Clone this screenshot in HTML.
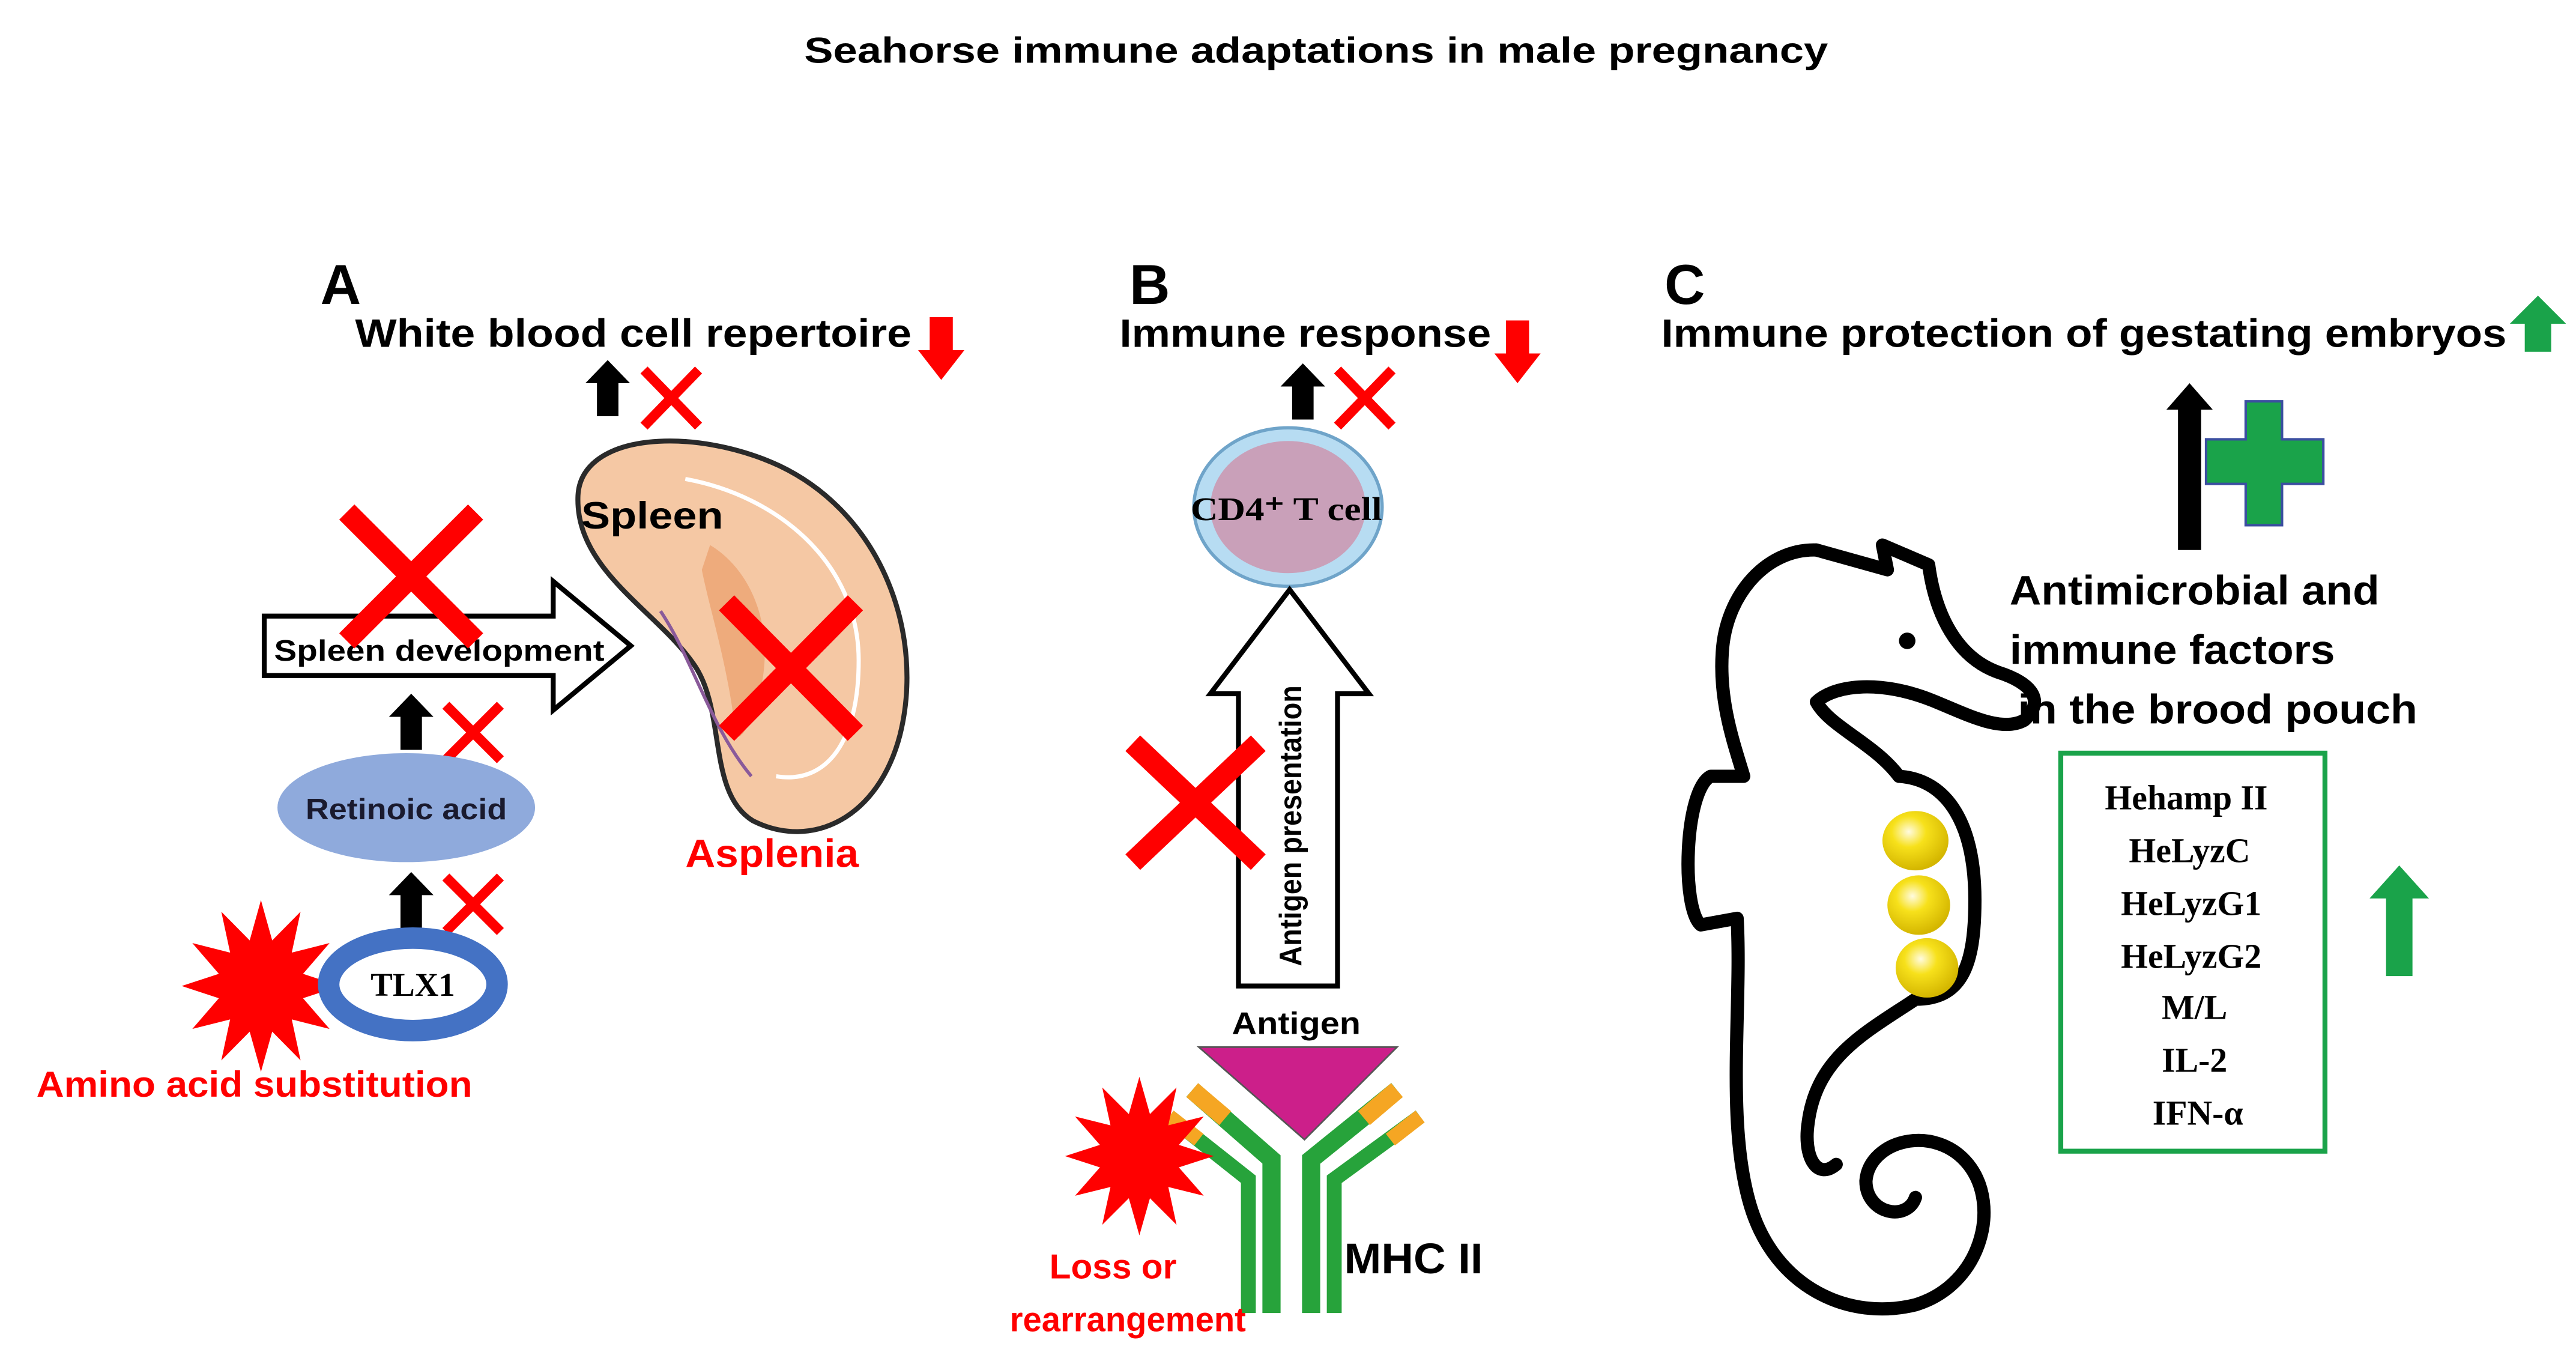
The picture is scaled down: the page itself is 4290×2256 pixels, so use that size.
<!DOCTYPE html>
<html><head><meta charset="utf-8"><style>
html,body{margin:0;padding:0;background:#fff;}
svg{display:block;}
text{font-family:"Liberation Sans",sans-serif;font-weight:bold;}
.serif{font-family:"Liberation Serif",serif;font-weight:bold;}
</style></head><body>
<svg width="4290" height="2256" viewBox="0 0 1560 820.4" xmlns="http://www.w3.org/2000/svg">
<defs>
<polygon id="star" points="1,0 .531,.142 .866,.5 .389,.389 .5,.866 .142,.531 0,1 -.142,.531 -.5,.866 -.389,.389 -.866,.5 -.531,.142 -1,0 -.531,-.142 -.866,-.5 -.389,-.389 -.5,-.866 -.142,-.531 0,-1 .142,-.531 .5,-.866 .389,-.389 .866,-.5 .531,-.142" fill="#ff0000"/>
<polygon id="bup" points="0,-17 13.5,-3 6.5,-3 6.5,17 -6.5,17 -6.5,-3 -13.5,-3" fill="#000"/>
<polygon id="rdown" points="-7,-19 7,-19 7,1 14,1 0,19 -14,1 -7,1" fill="#ff0000"/>
<polygon id="gup" points="0,-17 17,0 8,0 8,17 -8,17 -8,0 -17,0" fill="#1aa34a"/>
<radialGradient id="egg" cx="40%" cy="35%" r="65%"><stop offset="0" stop-color="#fffbe0"/><stop offset=".4" stop-color="#f7e11b"/><stop offset="1" stop-color="#d4b600"/></radialGradient>
</defs>

<text x="797" y="38" font-size="22" text-anchor="middle" textLength="620" lengthAdjust="spacingAndGlyphs">Seahorse immune adaptations in male pregnancy</text>

<!-- ===== A ===== -->
<text x="194" y="184" font-size="34">A</text>
<text x="215" y="210" font-size="24" textLength="337" lengthAdjust="spacingAndGlyphs">White blood cell repertoire</text>
<use href="#rdown" transform="translate(570,211)"/>
<use href="#bup" transform="translate(368,235)"/>
<g stroke="#ff0000" stroke-width="6"><line x1="390" y1="224" x2="423" y2="258"/><line x1="423" y1="224" x2="390" y2="258"/></g>

<path d="M350,300 C352,262 420,258 472,282 C535,312 560,385 545,445 C532,495 492,515 456,497 C428,480 440,430 420,402 C398,370 348,345 350,300 Z" fill="#f5c8a4" stroke="#2a2a2a" stroke-width="3"/>
<path d="M415,290 C470,300 520,340 520,400 C520,450 500,475 470,470" fill="none" stroke="#fff" stroke-width="2.5"/>
<path d="M430,330 C455,345 470,380 460,420 C455,440 445,455 445,440 C440,400 430,370 425,345 Z" fill="#eeab7c"/>
<path d="M400,370 C420,400 430,440 455,470" fill="none" stroke="#8a5a9a" stroke-width="2"/>
<text x="352" y="320" font-size="23" textLength="86" lengthAdjust="spacingAndGlyphs">Spleen</text>
<g stroke="#ff0000" stroke-width="13"><line x1="440" y1="365" x2="518" y2="444"/><line x1="518" y1="365" x2="440" y2="444"/></g>
<text x="415" y="525" font-size="24" fill="#ff0000" textLength="105" lengthAdjust="spacingAndGlyphs">Asplenia</text>

<polygon points="160,373 335,373 335,352 382,391 335,430 335,409 160,409" fill="#fff" stroke="#000" stroke-width="3"/>
<text x="166" y="400" font-size="18" textLength="200" lengthAdjust="spacingAndGlyphs">Spleen development</text>
<g stroke="#ff0000" stroke-width="13"><line x1="210" y1="310" x2="288" y2="388"/><line x1="288" y1="310" x2="210" y2="388"/></g>

<use href="#bup" transform="translate(249,437)"/>
<g stroke="#ff0000" stroke-width="6"><line x1="270" y1="427" x2="303" y2="460"/><line x1="303" y1="427" x2="270" y2="460"/></g>

<ellipse cx="246" cy="489" rx="78" ry="33" fill="#8faadc"/>
<text x="246" y="496" font-size="18" text-anchor="middle" fill="#1a1a2e" textLength="122" lengthAdjust="spacingAndGlyphs">Retinoic acid</text>

<use href="#bup" transform="translate(249,545)"/>
<g stroke="#ff0000" stroke-width="6"><line x1="270" y1="531" x2="303" y2="564"/><line x1="303" y1="531" x2="270" y2="564"/></g>

<use href="#star" transform="translate(158,597) scale(48,52)"/>
<ellipse cx="250" cy="596" rx="51" ry="28" fill="#fff" stroke="#4472c4" stroke-width="13"/>
<text x="250" y="603" class="serif" font-size="20" text-anchor="middle">TLX1</text>
<text x="22" y="664" font-size="22" fill="#ff0000" textLength="264" lengthAdjust="spacingAndGlyphs">Amino acid substitution</text>

<!-- ===== B ===== -->
<text x="684" y="184" font-size="34">B</text>
<text x="678" y="210" font-size="24" textLength="225" lengthAdjust="spacingAndGlyphs">Immune response</text>
<use href="#rdown" transform="translate(919,213)"/>
<use href="#bup" transform="translate(789,237)"/>
<g stroke="#ff0000" stroke-width="6"><line x1="810" y1="224" x2="843" y2="258"/><line x1="843" y1="224" x2="810" y2="258"/></g>

<ellipse cx="780" cy="307" rx="57" ry="48" fill="#b7dcf2" stroke="#6fa4c9" stroke-width="2"/>
<ellipse cx="780" cy="307" rx="47" ry="40" fill="#c9a0b9"/>
<text x="779" y="315" class="serif" font-size="20" text-anchor="middle" textLength="116" lengthAdjust="spacingAndGlyphs">CD4⁺ T cell</text>

<polygon points="750,597 750,420 733,420 781,357 829,420 810,420 810,597" fill="#fff" stroke="#000" stroke-width="3"/>
<text transform="translate(788,500) rotate(-90)" font-size="19" text-anchor="middle" textLength="170" lengthAdjust="spacingAndGlyphs">Antigen presentation</text>
<g stroke="#ff0000" stroke-width="13"><line x1="686" y1="450" x2="762" y2="522"/><line x1="762" y1="450" x2="686" y2="522"/></g>

<text x="785" y="626" font-size="19" text-anchor="middle" textLength="78" lengthAdjust="spacingAndGlyphs">Antigen</text>
<polygon points="726,634 846,634 790,690" fill="#cc1f8a" stroke="#555" stroke-width="1"/>
<g stroke-linecap="butt" fill="none">
<path d="M722,660 L770,702 L770,795" stroke="#27a33b" stroke-width="11"/>
<path d="M708,676 L756,714 L756,795" stroke="#27a33b" stroke-width="9"/>
<path d="M846,660 L794,702 L794,795" stroke="#27a33b" stroke-width="11"/>
<path d="M860,676 L808,714 L808,795" stroke="#27a33b" stroke-width="9"/>
<path d="M722,660 L742,677" stroke="#f5a623" stroke-width="11"/>
<path d="M708,676 L726,690" stroke="#f5a623" stroke-width="9"/>
<path d="M846,660 L826,677" stroke="#f5a623" stroke-width="11"/>
<path d="M860,676 L842,690" stroke="#f5a623" stroke-width="9"/>
</g>
<use href="#star" transform="translate(690,700) scale(45,48)"/>
<text x="674" y="774" font-size="21" fill="#ff0000" text-anchor="middle" textLength="77" lengthAdjust="spacingAndGlyphs">Loss or</text>
<text x="683" y="806" font-size="21" fill="#ff0000" text-anchor="middle" textLength="143" lengthAdjust="spacingAndGlyphs">rearrangement</text>
<text x="814" y="771" font-size="26" textLength="84" lengthAdjust="spacingAndGlyphs">MHC II</text>

<!-- ===== C ===== -->
<text x="1008" y="184" font-size="34">C</text>
<text x="1006" y="210" font-size="24" textLength="512" lengthAdjust="spacingAndGlyphs">Immune protection of gestating embryos</text>
<use href="#gup" transform="translate(1537,196)"/>

<polygon points="1326,232 1340,248 1333,248 1333,333 1319,333 1319,248 1312,248" fill="#000"/>
<polygon points="1360,243 1382,243 1382,266 1407,266 1407,293 1382,293 1382,318 1360,318 1360,293 1336,293 1336,266 1360,266" fill="#1aa34a" stroke="#3b4fa0" stroke-width="1.5"/>

<text x="1217" y="366" font-size="25" textLength="224" lengthAdjust="spacingAndGlyphs">Antimicrobial and</text>
<text x="1217" y="402" font-size="25" textLength="197" lengthAdjust="spacingAndGlyphs">immune factors</text>
<text x="1222" y="438" font-size="25" textLength="242" lengthAdjust="spacingAndGlyphs">in the brood pouch</text>

<rect x="1248" y="456" width="160" height="241" fill="#fff" stroke="#1aa34a" stroke-width="3"/>
<g font-size="21" text-anchor="middle">
<text x="1324" y="490" class="serif">Hehamp II</text>
<text x="1326" y="522" class="serif">HeLyzC</text>
<text x="1327" y="554" class="serif">HeLyzG1</text>
<text x="1327" y="586" class="serif">HeLyzG2</text>
<text x="1329" y="617" class="serif">M/L</text>
<text x="1329" y="649" class="serif">IL-2</text>
<text x="1331" y="681" class="serif">IFN-α</text>
</g>
<polygon points="1453,524 1471,544 1461,544 1461,591 1445,591 1445,544 1435,544" fill="#1aa34a"/>

<g fill="none" stroke="#000" stroke-width="8" stroke-linejoin="round" stroke-linecap="round">
<path d="M1100,333 C1070,332 1045,360 1043,395 C1041,425 1050,450 1056,470 L1036,470 C1020,478 1018,550 1030,560 L1052,556 C1055,610 1045,680 1060,730 C1075,780 1120,800 1160,790 C1200,778 1212,730 1192,705 C1172,680 1132,690 1130,715 C1130,735 1155,740 1160,725"/>
<path d="M1100,333 L1143,345 L1140,330 L1168,342 C1172,372 1185,398 1210,407 C1232,414 1238,425 1226,436 C1212,444 1190,432 1170,424 C1140,412 1112,414 1100,425 C1108,440 1135,450 1150,470"/>
<path d="M1150,470 C1180,472 1196,500 1196,545 C1196,585 1188,605 1160,605 C1130,625 1100,640 1095,680 C1092,700 1100,715 1112,705"/>
</g>
<circle cx="1155" cy="388" r="5" fill="#000"/>
<ellipse cx="1160" cy="509" rx="20" ry="18" fill="url(#egg)"/>
<ellipse cx="1162" cy="548" rx="19" ry="18" fill="url(#egg)"/>
<ellipse cx="1167" cy="586" rx="19" ry="18" fill="url(#egg)"/>
</svg>
</body></html>
